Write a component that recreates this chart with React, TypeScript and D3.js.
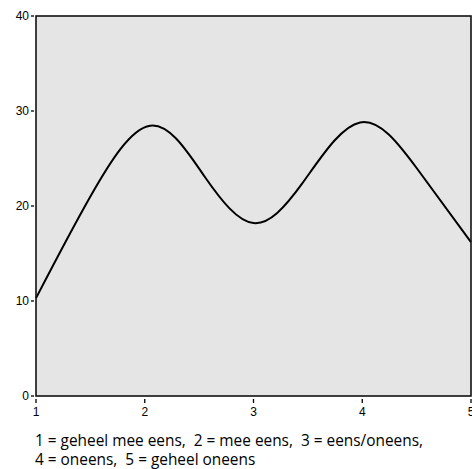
import React from "react";
import * as d3 from "d3";

const xValues = [1, 1.5, 2.05, 2.55, 3.0, 3.45, 3.98, 4.5, 5];
const yValues = [10.3, 21.0, 28.45, 23.1, 18.2, 22.4, 28.8, 24.0, 16.2];
const xTicks = [1, 2, 3, 4, 5];
const yTicks = [0, 10, 20, 30, 40];
const captionLines = [
  "1 = geheel mee eens,  2 = mee eens,  3 = eens/oneens,",
  "4 = oneens,  5 = geheel oneens",
];

const W = 472;
const H = 469;
const left = 36;
const right = 471;
const top = 16;
const bottom = 396;

export default function App() {
  const x = d3.scaleLinear().domain([1, 5]).range([left, right]);
  const y = d3.scaleLinear().domain([0, 40]).range([bottom, top]);
  const pts = xValues.map((v, i) => [v, yValues[i]] as [number, number]);
  const line = d3
    .line<[number, number]>()
    .x((d) => x(d[0]))
    .y((d) => y(d[1]))
    .curve(d3.curveNatural);

  return (
    <svg
      width={W}
      height={H}
      style={{ position: "absolute", left: 0, top: 0, display: "block", background: "#fff" }}
    >
      <rect x={left} y={top} width={right - left} height={bottom - top} fill="#e5e5e5" />
      <path d={line(pts) || ""} fill="none" stroke="#000" strokeWidth={2} />
      <rect
        x={left}
        y={top}
        width={right - left}
        height={bottom - top}
        fill="none"
        stroke="#111"
        strokeWidth={1.6}
      />
      {yTicks.map((t) => (
        <g key={"y" + t}>
          <line x1={left - 5} x2={left - 2} y1={y(t)} y2={y(t)} stroke="#000" strokeWidth={1.3} />
          <text
            x={left - 7}
            y={y(t)}
            dy="0.35em"
            textAnchor="end"
            fontFamily="Liberation Sans, Arial, sans-serif"
            fontSize={12}
            fill="#000"
          >
            {t}
          </text>
        </g>
      ))}
      {xTicks.map((t) => (
        <g key={"x" + t}>
          <line x1={x(t)} x2={x(t)} y1={bottom + 3} y2={bottom + 7} stroke="#000" strokeWidth={1.3} />
          <text
            x={x(t)}
            y={bottom + 20}
            textAnchor="middle"
            fontFamily="Liberation Sans, Arial, sans-serif"
            fontSize={12}
            fill="#000"
          >
            {t}
          </text>
        </g>
      ))}
      {captionLines.map((c, i) => (
        <text
          key={i}
          x={35}
          y={446 + i * 19}
          fontFamily="Open Sans, Lato, sans-serif"
          fontSize={15.4}
          fill="#000"
          style={{ whiteSpace: "pre" }}
        >
          {c}
        </text>
      ))}
    </svg>
  );
}
